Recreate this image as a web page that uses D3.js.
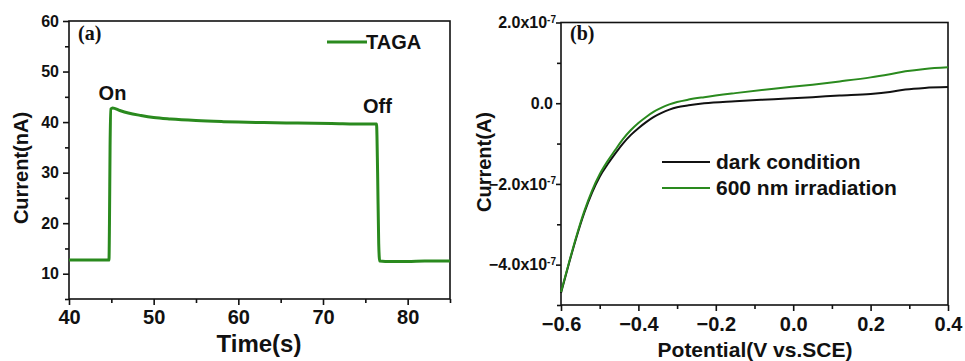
<!DOCTYPE html>
<html>
<head>
<meta charset="utf-8">
<script src="https://cdn.jsdelivr.net/npm/d3@7"></script>
<style>
  body { margin: 0; background: #fff; }
  svg text { font-family: "Liberation Sans", Arial, sans-serif; font-weight: bold; fill: #111; }
  .axis path, .axis line { stroke: #111; stroke-width: 1.6; }
</style>
</head>
<body>
<svg id="chart" width="965" height="361"></svg>
<script>
// Panel (a): photocurrent vs time
const timeVals = [40, 44.72, 44.78, 44.85, 44.95, 45.15, 46, 47, 48.5, 50, 52, 55, 58, 60, 63, 67, 71, 75, 76.32, 76.45, 76.58, 76.7, 78, 80, 82, 85];
const currentVals = [12.7, 12.7, 20, 35, 42.6, 42.8, 42.3, 41.8, 41.3, 40.9, 40.6, 40.3, 40.1, 40.0, 39.9, 39.8, 39.7, 39.6, 39.6, 30, 16, 12.5, 12.4, 12.4, 12.5, 12.5];
const timeTicks = [40, 50, 60, 70, 80];
const currentTicks = [10, 20, 30, 40, 50, 60];

// Panel (b): current vs potential (units of 1e-7 A)
const potentialVals = [-0.6, -0.58, -0.56, -0.54, -0.52, -0.5, -0.48, -0.46, -0.44, -0.42, -0.4, -0.38, -0.36, -0.34, -0.32, -0.3, -0.27, -0.23, -0.15, -0.05, 0.05, 0.12, 0.2, 0.25, 0.29, 0.34, 0.4];
const darkVals = [-4.70, -3.99, -3.32, -2.72, -2.22, -1.82, -1.52, -1.25, -1.00, -0.79, -0.62, -0.47, -0.34, -0.24, -0.16, -0.10, -0.05, 0.0, 0.05, 0.10, 0.15, 0.19, 0.23, 0.28, 0.34, 0.38, 0.40];
const lightVals = [-4.68, -3.97, -3.29, -2.68, -2.17, -1.76, -1.44, -1.16, -0.89, -0.67, -0.49, -0.34, -0.21, -0.11, -0.03, 0.03, 0.09, 0.15, 0.25, 0.36, 0.46, 0.54, 0.64, 0.72, 0.79, 0.85, 0.89];
const potentialTicks = [-0.6, -0.4, -0.2, 0.0, 0.2, 0.4];
const ampTicks = [-4, -2, 0, 2];
const seriesNames = ["dark condition", "600 nm irradiation"];
const seriesColors = ["#111111", "#2a8a1e"];

const svg = d3.select("#chart");

// ---------- panel (a) ----------
const a = { left: 69, right: 450, top: 21, bottom: 299 };
const xa = d3.scaleLinear().domain([40, 85]).range([a.left, a.right]);
const ya = d3.scaleLinear().domain([5, 60]).range([a.bottom, a.top]);

// frame
svg.append("rect")
    .attr("x", a.left).attr("y", a.top)
    .attr("width", a.right - a.left).attr("height", a.bottom - a.top)
    .attr("fill", "none").attr("stroke", "#111").attr("stroke-width", 1.6);

// minor ticks
svg.append("g").attr("class", "axis")
    .attr("transform", `translate(0,${a.bottom})`)
    .call(d3.axisBottom(xa).tickValues(d3.range(45, 86, 10)).tickSize(4).tickFormat(""))
    .select(".domain").remove();
svg.append("g").attr("class", "axis")
    .attr("transform", `translate(${a.left},0)`)
    .call(d3.axisLeft(ya).tickValues(d3.range(5, 60, 10)).tickSize(4).tickFormat(""))
    .select(".domain").remove();

// major ticks + labels
const axA = svg.append("g").attr("class", "axis")
    .attr("transform", `translate(0,${a.bottom})`)
    .call(d3.axisBottom(xa).tickValues(timeTicks).tickSize(6).tickPadding(5));
axA.select(".domain").remove();
axA.selectAll("text").style("font-size", "20px").attr("fill", "#111");

const ayA = svg.append("g").attr("class", "axis")
    .attr("transform", `translate(${a.left},0)`)
    .call(d3.axisLeft(ya).tickValues(currentTicks).tickSize(6).tickPadding(4));
ayA.select(".domain").remove();
ayA.selectAll("text").style("font-size", "16px").attr("fill", "#111");

svg.append("path")
    .datum(timeVals.map((t, i) => [t, currentVals[i]]))
    .attr("fill", "none")
    .attr("stroke", "#2a8a1e")
    .attr("stroke-width", 3)
    .attr("stroke-linejoin", "round")
    .attr("d", d3.line().x(d => xa(d[0])).y(d => ya(d[1])).curve(d3.curveMonotoneX));

svg.append("text").attr("x", 78).attr("y", 40)
    .style("font-family", "'Liberation Serif', 'Times New Roman', serif")
    .style("font-size", "20px").text("(a)");
svg.append("text").attr("x", 112.5).attr("y", 100).attr("text-anchor", "middle")
    .style("font-size", "20px").text("On");
svg.append("text").attr("x", 377.5).attr("y", 113).attr("text-anchor", "middle")
    .style("font-size", "20px").text("Off");

// legend (a)
svg.append("line").attr("x1", 327).attr("x2", 367).attr("y1", 42).attr("y2", 42)
    .attr("stroke", "#2a8a1e").attr("stroke-width", 3);
svg.append("text").attr("x", 366).attr("y", 49).style("font-size", "20px").text("TAGA");

svg.append("text").attr("x", 259).attr("y", 352)
    .attr("text-anchor", "middle").style("font-size", "24px").text("Time(s)");
svg.append("text")
    .attr("transform", `translate(28,168) rotate(-90)`)
    .attr("text-anchor", "middle").style("font-size", "20px").text("Current(nA)");

// ---------- panel (b) ----------
const b = { left: 561, right: 948, top: 22.5, bottom: 305 };
const xb = d3.scaleLinear().domain([-0.6, 0.4]).range([b.left, b.right]);
const yb = d3.scaleLinear().domain([-5, 2]).range([b.bottom, b.top]);

svg.append("rect")
    .attr("x", b.left).attr("y", b.top)
    .attr("width", b.right - b.left).attr("height", b.bottom - b.top)
    .attr("fill", "none").attr("stroke", "#111").attr("stroke-width", 1.6);

svg.append("g").attr("class", "axis")
    .attr("transform", `translate(0,${b.bottom})`)
    .call(d3.axisBottom(xb).tickValues([-0.5, -0.3, -0.1, 0.1, 0.3]).tickSize(4).tickFormat(""))
    .select(".domain").remove();
svg.append("g").attr("class", "axis")
    .attr("transform", `translate(${b.left},0)`)
    .call(d3.axisLeft(yb).tickValues([-5, -3, -1, 1]).tickSize(4).tickFormat(""))
    .select(".domain").remove();

const axB = svg.append("g").attr("class", "axis")
    .attr("transform", `translate(0,${b.bottom})`)
    .call(d3.axisBottom(xb).tickValues(potentialTicks).tickSize(6).tickPadding(6).tickFormat(d3.format(".1f")));
axB.select(".domain").remove();
axB.selectAll("text").style("font-size", "20px").attr("fill", "#111");

const ayB = svg.append("g").attr("class", "axis")
    .attr("transform", `translate(${b.left},0)`)
    .call(d3.axisLeft(yb).tickValues(ampTicks).tickSize(5).tickPadding(0).tickFormat(""));
ayB.select(".domain").remove();
ayB.selectAll(".tick text").each(function(d) {
    const t = d3.select(this).style("font-size", "16px").attr("fill", "#111");
    if (d === 0) {
        t.attr("dx", "-3px").text("0.0");
    } else {
        t.append("tspan").text(d3.format(".1f")(d) + "x10");
        t.append("tspan").attr("dy", "-0.55em").style("font-size", "10px").text("-7");
    }
});

const lineB = d3.line().x(d => xb(d[0])).y(d => yb(d[1])).curve(d3.curveMonotoneX);
[darkVals, lightVals].forEach((vals, k) => {
    svg.append("path")
        .datum(potentialVals.map((p, i) => [p, vals[i]]))
        .attr("fill", "none")
        .attr("stroke", seriesColors[k])
        .attr("stroke-width", 2)
        .attr("d", lineB);
});

svg.append("text").attr("x", 570).attr("y", 40)
    .style("font-family", "'Liberation Serif', 'Times New Roman', serif")
    .style("font-size", "20px").text("(b)");

seriesNames.forEach((name, k) => {
    const yy = 162 + k * 26;
    svg.append("line").attr("x1", 662).attr("x2", 710).attr("y1", yy).attr("y2", yy)
        .attr("stroke", seriesColors[k]).attr("stroke-width", 2);
    svg.append("text").attr("x", 716).attr("y", yy + 7).style("font-size", "21px").text(name);
});

svg.append("text").attr("x", 755).attr("y", 357)
    .attr("text-anchor", "middle").style("font-size", "21px").text("Potential(V vs.SCE)");
svg.append("text")
    .attr("transform", `translate(491,162) rotate(-90)`)
    .attr("text-anchor", "middle").style("font-size", "20px").text("Current(A)");
</script>
</body>
</html>
